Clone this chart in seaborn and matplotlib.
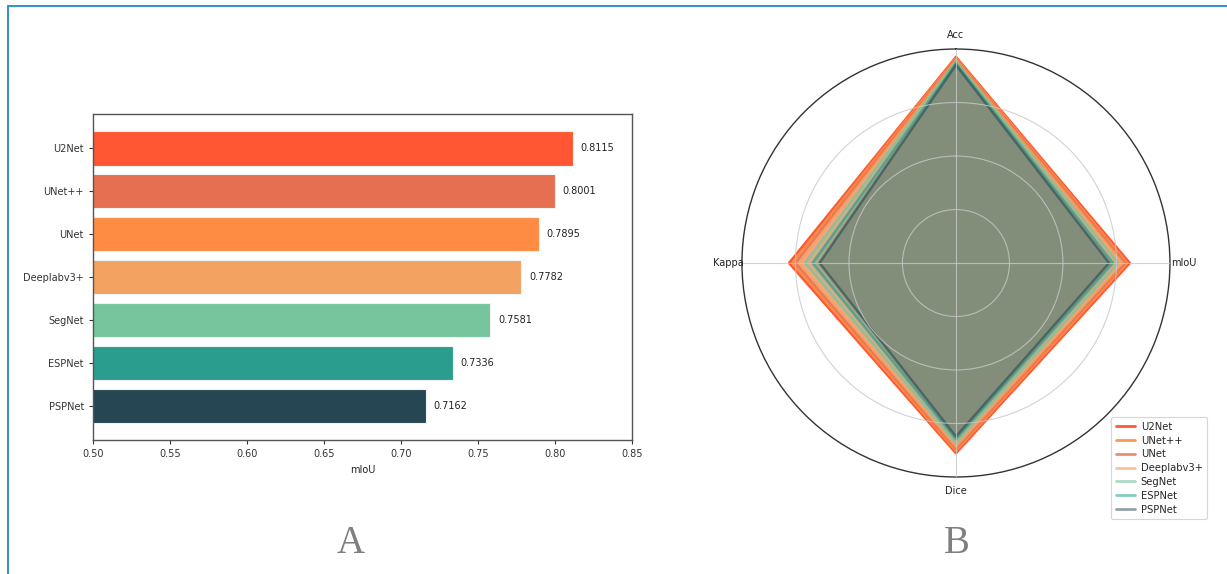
import numpy as np
import pandas as pd
import matplotlib
matplotlib.use("Agg")
import matplotlib.pyplot as plt
from matplotlib.patches import Rectangle
import seaborn as sns

# Segmentation models and their scores
models = ["U2Net", "UNet++", "UNet", "Deeplabv3+", "SegNet", "ESPNet", "PSPNet"]
miou = [0.8115, 0.8001, 0.7895, 0.7782, 0.7581, 0.7336, 0.7162]
acc = [0.962, 0.957, 0.953, 0.948, 0.942, 0.933, 0.926]
dice = [0.888, 0.877, 0.868, 0.858, 0.842, 0.824, 0.811]
kappa = [0.779, 0.765, 0.750, 0.735, 0.705, 0.670, 0.638]
metrics = ["Acc", "mIoU", "Dice", "Kappa"]

bar_colors = ["#FF5733", "#E76F51", "#FF8C42", "#F4A261", "#76C59D", "#2A9D8F", "#264653"]
radar_colors = ["#FF5733", "#FF8C42", "#E76F51", "#F4A261", "#76C59D", "#2A9D8F", "#264653"]
line_alpha = [1.0, 0.9, 0.8, 0.65, 0.6, 0.55, 0.5]

sns.set_theme(style="ticks")
plt.rcParams["font.family"] = ["DejaVu Sans"]
plt.rcParams["axes.edgecolor"] = "#555555"
plt.rcParams["xtick.color"] = "#333333"
plt.rcParams["ytick.color"] = "#333333"

fig = plt.figure(figsize=(12.27, 5.74), dpi=100)
fig.patch.set_facecolor("white")

# ---- A: horizontal bar chart of mIoU ----
ax1 = fig.add_axes([0.0758, 0.2334, 0.4392, 0.568])
df = pd.DataFrame({"model": models, "mIoU": miou})
sns.barplot(data=df, y="model", x="mIoU", hue="model", palette=bar_colors,
            orient="h", width=0.8, legend=False, saturation=1,
            edgecolor="#eef3f3", linewidth=0.8, ax=ax1)
ax1.set_xlim(0.5, 0.85)
ax1.set_ylim(6.79, -0.8)
ax1.set_xticks([0.50, 0.55, 0.60, 0.65, 0.70, 0.75, 0.80, 0.85])
ax1.set_xticklabels([f"{t:.2f}" for t in ax1.get_xticks()])
ax1.set_ylabel("")
ax1.set_xlabel("mIoU", fontsize=7, color="#222222", labelpad=4)
ax1.tick_params(axis="both", labelsize=7, length=3, width=0.8, colors="#333333")
for s in ax1.spines.values():
    s.set_visible(True)
    s.set_linewidth(1.0)
    s.set_color("#555555")
for i, v in enumerate(miou):
    ax1.text(v + 0.005, i, f"{v:.4f}", va="center", ha="left",
             fontsize=7, color="#222222")

# ---- B: radar chart of all metrics ----
ax2 = fig.add_axes([0.6047, 0.169, 0.3488, 0.7456], projection="polar")
ax2.set_theta_offset(np.pi / 2)
ax2.set_theta_direction(-1)
angles = np.linspace(0, 2 * np.pi, len(metrics), endpoint=False)
closed = np.concatenate([angles, angles[:1]])
for i, name in enumerate(models):
    vals = [acc[i], miou[i], dice[i], kappa[i]]
    vals = vals + vals[:1]
    ax2.plot(closed, vals, color=radar_colors[i], linewidth=2,
             alpha=line_alpha[i], label=name)
    ax2.fill(closed, vals, color=radar_colors[i], alpha=0.27)
ax2.set_ylim(0, 1)
ax2.set_yticks([0.25, 0.5, 0.75])
ax2.set_yticklabels([])
ax2.set_xticks(angles)
ax2.set_xticklabels(metrics, fontsize=7, color="#222222")
ax2.tick_params(axis="x", pad=-3)
ax2.set_axisbelow(False)
ax2.grid(True, color="#c8c8c8", linewidth=0.8, alpha=0.8)
ax2.spines["polar"].set_color("#333333")
ax2.spines["polar"].set_linewidth(1.0)
ax2.set_facecolor("white")
leg = ax2.legend(loc="lower right", bbox_to_anchor=(1.092, -0.103), fontsize=7.2,
                 frameon=True, handlelength=1.9, borderpad=0.45, labelspacing=0.38,
                 handletextpad=0.6, borderaxespad=0.2)
leg.set_zorder(20)
leg.get_frame().set_edgecolor("#cccccc")
leg.get_frame().set_linewidth(0.8)

# Panel letters
fig.text(0.286, 0.054, "A", fontsize=28, family="Liberation Serif",
         color="#7f7f7f", ha="center", va="center")
fig.text(0.780, 0.054, "B", fontsize=28, family="Liberation Serif",
         color="#7f7f7f", ha="center", va="center")

# Outer blue frame
fig.patches.append(Rectangle((0.0065, -0.05), 1.1, 1.05 - 6.0 / 574,
                             transform=fig.transFigure, fill=False,
                             edgecolor="#1E8BC3", linewidth=1.3, zorder=10))

fig.savefig("out.png", dpi=100, facecolor="white")
